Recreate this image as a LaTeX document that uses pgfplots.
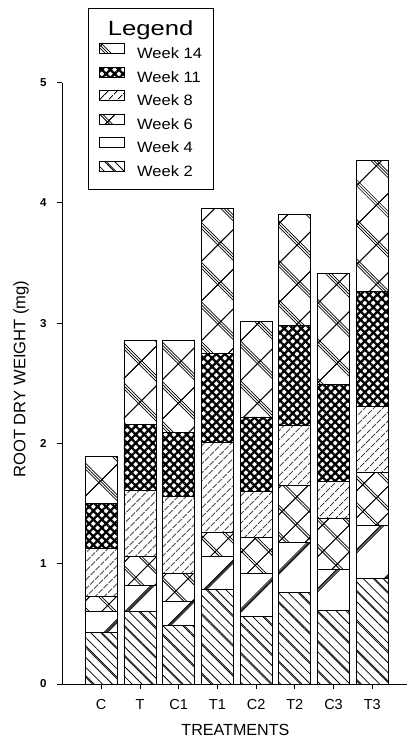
\documentclass[border=0pt]{standalone}
\usepackage{fontspec}
\setmainfont{Liberation Sans}
\newfontfamily\legfont[FakeStretch=1.1]{Liberation Sans}
\newfontfamily\titlefont[FakeStretch=1.25]{Liberation Sans}
\usepackage{pgfplots}
\pgfplotsset{compat=1.18}
\usepackage{pgfplotstable}
\usetikzlibrary{patterns.meta}

% increments of root dry weight per harvest (stacked)
\pgfplotstableread{
x   w2   w4   w6   w8   w11  w14
0   0.43 0.17 0.13 0.40 0.37 0.39
1   0.60 0.22 0.24 0.55 0.55 0.70
2   0.49 0.20 0.23 0.64 0.53 0.77
3   0.79 0.27 0.20 0.75 0.74 1.20
4   0.56 0.36 0.30 0.38 0.62 0.79
5   0.76 0.42 0.47 0.50 0.83 0.92
6   0.61 0.34 0.43 0.30 0.81 0.92
7   0.88 0.44 0.44 0.55 0.95 1.09
}\data

\tikzset{
  seg/.style={draw=black, line width=0.8pt},
  w2/.style={seg,
    pattern={Lines[angle=-45,distance=7pt,line width=0.8pt]},
    postaction={pattern={Lines[angle=-45,distance=21pt,xshift=1.6pt,line width=0.7pt]}}},
  w4/.style={seg,
    pattern={Lines[angle=45,distance=40pt,line width=0.6pt]},
    postaction={pattern={Lines[angle=45,distance=40pt,yshift=1.2pt,line width=0.6pt]}},
    postaction={pattern={Lines[angle=45,distance=40pt,yshift=2.4pt,line width=0.6pt]}},
    postaction={pattern={Lines[angle=45,distance=40pt,yshift=3.6pt,line width=0.6pt]}}},
  w6/.style={seg,
    pattern={Hatch[angle=45,distance=19pt,line width=0.8pt]},
    postaction={pattern={Hatch[angle=45,distance=19pt,xshift=1.5pt,yshift=1.5pt,line width=0.7pt]}}},
  w8/.style={seg,
    pattern={Lines[angle=45,distance=6.5pt,line width=0.9pt]}},
  w11/.style={seg,
    pattern={Hatch[angle=45,distance=6pt,line width=2.3pt]}},
  w14/.style={seg,
    pattern={Hatch[angle=45,distance=28pt,line width=0.7pt]},
    postaction={pattern={Hatch[angle=45,distance=28pt,xshift=1.5pt,yshift=1.5pt,line width=0.7pt]}},
    postaction={pattern={Hatch[angle=45,distance=28pt,xshift=3pt,yshift=3pt,line width=0.7pt]}}},
  sw/.style={/pgfplots/legend image code/.code={\draw[##1,line width=0.8pt] (0pt,0.3pt) rectangle (25pt,10.3pt);}},
}

\begin{document}
\begin{tikzpicture}
\begin{axis}[
  at={(62pt,56pt)}, anchor=south west,
  scale only axis, width=344.7pt, height=601.5pt,
  ybar stacked, bar width=32pt,
  xmin=-1.013, xmax=7.89, ymin=0, ymax=5,
  axis x line*=bottom, axis y line*=left,
  axis line style={line width=1pt},
  xtick={0,...,7}, xticklabels={C,T,C1,T1,C2,T2,C3,T3},
  ytick={0,1,2,3,4,5},
  tick align=outside, major tick length=5pt,
  tick style={black, line width=0.8pt},
  /pgf/number format/assume math mode=true,
  xticklabel style={font=\fontsize{14.5}{14.5}\selectfont, yshift=-7pt},
  yticklabel style={font=\bfseries\fontsize{11.5}{11.5}\selectfont, xshift=-7pt},
  xlabel={TREATMENTS},
  ylabel={ROOT DRY WEIGHT (mg)},
  xlabel style={font=\fontsize{16.1}{16.1}\selectfont, at={(axis description cs:0.503,-0.076)}, anchor=center},
  ylabel style={font=\fontsize{16.6}{16.6}\selectfont, at={(axis description cs:-0.119,0.507)}, anchor=center},
  reverse legend,
  legend cell align=left,
  legend style={at={(0.0754,1.1239)}, anchor=north west, draw=black, line width=0.8pt,
    fill=white, font=\legfont\fontsize{15}{15}\selectfont,
    inner xsep=11pt, inner ysep=12pt, row sep=6.6pt,
    nodes={inner sep=0pt},
    /tikz/every odd column/.append style={column sep=12pt}},
]
\addplot[w2, sw] table[x=x, y=w2] {\data}; \addlegendentry{Week 2\rule[-10pt]{0pt}{10pt}}
\addplot[w4, sw] table[x=x, y=w4] {\data}; \addlegendentry{Week 4}
\addplot[w6, sw] table[x=x, y=w6] {\data}; \addlegendentry{Week 6}
\addplot[w8, sw] table[x=x, y=w8] {\data}; \addlegendentry{Week 8}
\addplot[w11, sw] table[x=x, y=w11] {\data}; \addlegendentry{Week 11}
\addplot[w14, sw] table[x=x, y=w14] {\data}; \addlegendentry{Week 14}
\addlegendimage{empty legend}
\addlegendentry{\hspace*{-29.3pt}\titlefont\fontsize{20.5}{20.5}\selectfont\raisebox{0pt}[\height][4.5pt]{Legend}}
\end{axis}
\pgfresetboundingbox
\path[use as bounding box] (0,0) rectangle (408pt,740pt);
\end{tikzpicture}
\end{document}
